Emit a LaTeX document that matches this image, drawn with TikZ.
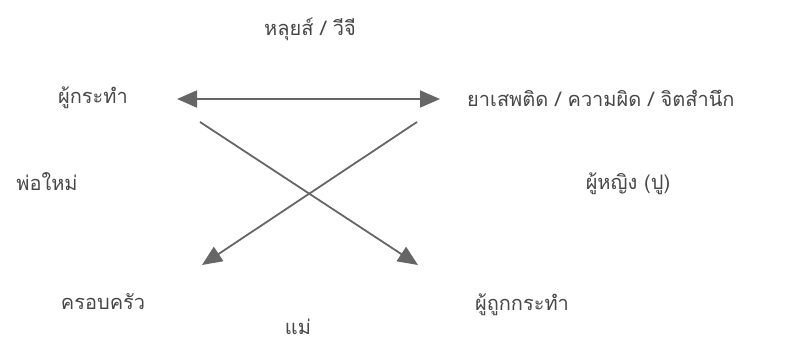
\documentclass[tikz,border=0pt]{standalone}
\usepackage{fontspec}
\newfontfamily\thaifont[Script=Thai]{Loma}
\usetikzlibrary{arrows.meta}
\tikzset{
  lbl/.style={font=\thaifont\fontsize{20}{22}\selectfont,text=black!72,inner sep=0pt},
  tip/.style={-{Triangle[length=20pt,width=17pt]}},
  link/.style={draw=black!60,line width=1.8pt,tip}
}
\begin{document}
\begin{tikzpicture}[x=1pt,y=1pt]
\useasboundingbox (0,0) rectangle (787,346);
% actants
\node[lbl] (sender) at (310,317) {หลุยส์ / วีจี};
\node[lbl] (subj) at (93,248) {ผู้กระทำ};
\node[lbl,anchor=west] (obj) at (467,248) {ยาเสพติด / ความผิด / จิตสำนึก};
\node[lbl] (helper) at (47,164) {พ่อใหม่};
\node[lbl] (woman) at (628,162) {ผู้หญิง (ปู)};
\node[lbl] (family) at (103,44) {ครอบครัว};
\node[lbl] (victim) at (522,41) {ผู้ถูกกระทำ};
\node[lbl] (mother) at (298,19) {แม่};
% arrow ends
\coordinate (hl) at (177,247);
\coordinate (hr) at (440,247);
\coordinate (dl) at (200,224);
\coordinate (dr) at (417,224);
\coordinate (bl) at (202,81);
\coordinate (br) at (418,81);
\draw[link,{Triangle[length=20pt,width=17pt]}-{Triangle[length=20pt,width=17pt]}] (hl) -- (hr);
\draw[link] (dl) -- (br);
\draw[link] (dr) -- (bl);
\end{tikzpicture}
\end{document}
